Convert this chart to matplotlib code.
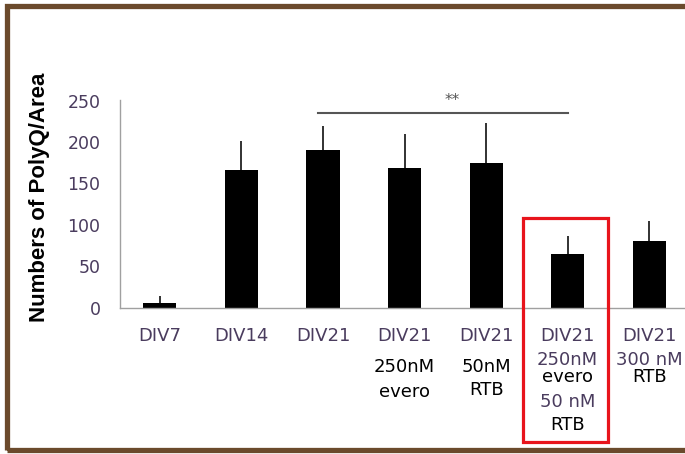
import matplotlib
matplotlib.use("Agg")
import matplotlib.pyplot as plt
import matplotlib.patches as mpatches
import numpy as np

# valeurs
groupes = ["DIV7", "DIV14", "DIV21", "DIV21", "DIV21", "DIV21", "DIV21"]
moyennes = [6, 166, 190, 168, 175, 65, 80]
erreurs = [8.5, 35, 29.5, 41.5, 48, 22, 25]
# lignes secondaires sous chaque étiquette: (texte, décalage en px, couleur)
sous_labels = [
    [],
    [],
    [],
    [("250nM", -59, "black"), ("evero", -84, "black")],
    [("50nM", -59, "black"), ("RTB", -82, "black")],
    [("250nM", -52, "#4a3c5e"), ("evero", -69, "black"),
     ("50 nM", -94, "#4a3c5e"), ("RTB", -117, "black")],
    [("300 nM", -52, "#4a3c5e"), ("RTB", -69, "black")],
]
signif = (2, 5, 234.5, "**")

W, H = 685, 454
fig = plt.figure(figsize=(W / 100, H / 100), dpi=100)
fig.patch.set_facecolor("white")

def px(x, y):
    # pixel (haut-gauche) -> fraction de figure
    return x / W, 1 - y / H

x0, y0 = px(120, 307.7)
x1, y1 = px(685, 100.5)
ax = fig.add_axes([x0, y0, 1.0 - x0, y1 - y0])

x = np.arange(len(groupes))
ax.bar(x, moyennes, width=0.405, color="black", zorder=2)
ax.errorbar(x, moyennes, yerr=[np.zeros(len(erreurs)), erreurs], fmt="none",
            ecolor="#222222", elinewidth=1.3, capsize=0, zorder=1)

ax.set_xlim(-0.49, 6.44)
ax.set_ylim(0, 250)
ax.set_yticks([0, 50, 100, 150, 200, 250])
ax.tick_params(axis="y", length=0, pad=14, labelsize=12.5, labelcolor="#4a3c5e")
ax.set_xticks(x)
ax.set_xticklabels(groupes)
ax.tick_params(axis="x", length=0, pad=14, labelsize=13, labelcolor="#4a3c5e")
for s in ["top", "right"]:
    ax.spines[s].set_visible(False)
for s in ["left", "bottom"]:
    ax.spines[s].set_color("#a0a0a0")
    ax.spines[s].set_linewidth(1.0)

for i, lignes in enumerate(sous_labels):
    for txt, dy, c in lignes:
        ax.annotate(txt, xy=(x[i], 0), xytext=(0, dy), textcoords="offset pixels",
                    ha="center", va="center", fontsize=13, color=c,
                    annotation_clip=False)

# ligne de significativité
a, b, yl, etoiles = signif
ax.plot([a - 0.06, b + 0.0], [yl, yl], color="#555555", lw=1.5, clip_on=False)
ax.text((a + b) / 2 + 0.08, yl + 6, etoiles, ha="center", va="bottom",
        fontsize=11, color="#555555")

fig.text(40 / W, 1 - 197 / H, "Numbers of PolyQ/Area", rotation=90,
         ha="center", va="center", fontsize=16, fontweight="bold",
         family="Liberation Sans", color="black")

# cadre rouge
rx0, ry0 = px(523, 442)
rx1, ry1 = px(608, 218)
fig.patches.append(mpatches.Rectangle((rx0, ry0), rx1 - rx0, ry1 - ry0,
                                      transform=fig.transFigure, fill=False,
                                      edgecolor="#e8141c", lw=2.3, zorder=5))

# cadre marron
bx0, by0 = px(7, 449.5)
bx1, by1 = px(700, 5.5)
fig.patches.append(mpatches.Rectangle((bx0, by0), bx1 - bx0, by1 - by0,
                                      transform=fig.transFigure, fill=False,
                                      edgecolor="#6b4a2c", lw=3.8, zorder=5))

fig.savefig("out.png", dpi=100)
